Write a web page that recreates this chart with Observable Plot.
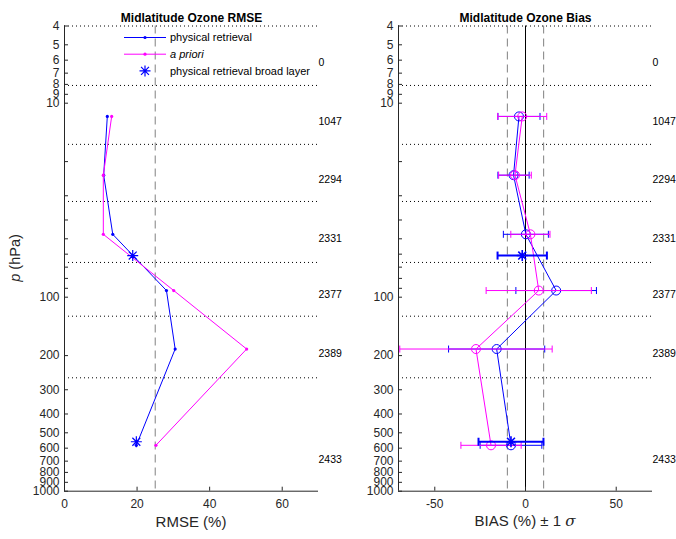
<!DOCTYPE html>
<html><head><meta charset="utf-8">
<script src="https://cdn.jsdelivr.net/npm/d3@7"></script>
<script src="https://cdn.jsdelivr.net/npm/@observablehq/plot@0.6"></script>
<style>
body{margin:0;background:#fff;}
#wrap{position:relative;width:676px;height:539px;background:#fff;font-family:"Liberation Sans",Arial,sans-serif;color:#262626;overflow:hidden;}
.abs{position:absolute;white-space:nowrap;}
</style></head><body>
<div id="wrap">
  <div id="left" class="abs" style="left:0;top:0"></div>
  <div id="right" class="abs" style="left:350px;top:0"></div>
  <div class="abs" style="left:191px;top:521px;transform:translate(-50%,-50%);font-size:15px;">RMSE (%)</div>
  <div class="abs" style="left:525px;top:521px;transform:translate(-50%,-50%);font-size:15px;">BIAS (%) ± 1 <i style="font-family:'DejaVu Serif',serif">σ</i></div>
  <div class="abs" style="left:15px;top:258px;transform:translate(-50%,-50%) rotate(-90deg);font-size:14.5px;"><i>p</i> (hPa)</div>
  <svg class="abs" style="left:0;top:0" width="350" height="90" id="legend"></svg>
</div>
<script>
// ---- data ----
const pressure = [11.7, 23.5, 47.4, 92.4, 185, 580];
const rmseRetrieval = [11.8, 10.8, 13.3, 28.1, 30.5, 19.8];
const rmsePrior = [13.0, 10.7, 10.7, 30.1, 50.2, 25.2];
const broadPressure = [61, 556];
const rmseBroad = [18.8, 19.8];
const biasRetrieval = [-3.6, -6.6, 0.2, 16.9, -15.9, -8.0];
const sigmaRetrieval = [11.6, 8.6, 12.4, 22.2, 26.5, 17.0];
const biasPrior = [-1.8, -5.8, 2.7, 7.3, -27.3, -19.0];
const sigmaPrior = [13.5, 9.0, 10.8, 29.0, 42.0, 16.6];
const biasBroad = [-1.8, -8.0];
const sigmaBroad = [13.6, 17.9];
const layerBounds = [4, 8.1, 16.3, 32.1, 66.2, 125.3, 260.3];
const layerLabels = ["0", "1047", "2294", "2331", "2377", "2389", "2433"];
const labelPressure = [6.2, 12.4, 24.7, 49.7, 97, 196, 689];
const rmseThreshold = [25];
const biasThreshold = [-10, 10];
const biasZero = [0];
const yTicks = [4,5,6,7,8,9,10,20,30,40,50,60,70,80,90,100,200,300,400,500,600,700,800,900,1000];
const yTickLabels = [4,5,6,7,8,9,10,100,200,300,400,500,600,700,800,900,1000];
const rmseTicks = [0, 20, 40, 60];
const biasTicks = [-50, 0, 50];
const rmseDomain = [0, 70];
const biasDomain = [-70, 70];
const yDomain = [4, 1000];
const titles = ["Midlatitude Ozone RMSE", "Midlatitude Ozone Bias"];

const BLUE = "#0000ff", MAG = "#ff00ff", AX = "#262626";

const rows = pressure.map((p, i) => ({
  p, rr: rmseRetrieval[i], rp: rmsePrior[i],
  br: biasRetrieval[i], sr: sigmaRetrieval[i],
  bp: biasPrior[i], sp: sigmaPrior[i]
}));
const broad = broadPressure.map((p, i) => ({p, r: rmseBroad[i], b: biasBroad[i], s: sigmaBroad[i]}));
const labels = layerLabels.map((t, i) => ({t, p: labelPressure[i]}));

const capSymbol = {draw(ctx, size) { const h = Math.sqrt(size / Math.PI); ctx.moveTo(0, -h); ctx.lineTo(0, h); }};
const starSymbol = {draw(ctx, size) {
  const r = Math.sqrt(size / Math.PI), d = r * 0.72;
  ctx.moveTo(-r, 0); ctx.lineTo(r, 0); ctx.moveTo(0, -r); ctx.lineTo(0, r);
  ctx.moveTo(-d, -d); ctx.lineTo(d, d); ctx.moveTo(-d, d); ctx.lineTo(d, -d);
}};

const common = {
  height: 539, marginTop: 25.5, marginBottom: 48.3,
  y: {type: "log", domain: yDomain, reverse: true},
  style: {fontFamily: "Liberation Sans, Arial, sans-serif", fontSize: "12px", color: AX, background: "white", overflow: "visible"}
};

function axes(xDomain, xTicks) {
  return [
    Plot.ruleX([xDomain[0]], {stroke: AX}),
    Plot.ruleY([yDomain[1]], {stroke: AX}),
    Plot.axisY({ticks: yTicks, tickFormat: () => "", tickSize: -4, tickPadding: 9, label: null, stroke: AX, strokeWidth: 1}),
    Plot.text(yTickLabels, {y: d => d, text: d => String(d), frameAnchor: "left", textAnchor: "end", dx: -5, fill: AX, fontSize: 12}),
    Plot.axisX({ticks: xTicks, tickFormat: d => String(d), tickSize: -4, tickPadding: 12, label: null, stroke: AX, strokeWidth: 1, fontSize: 12})
  ];
}

const left = Plot.plot({
  ...common, width: 350, marginLeft: 64, marginRight: 32,
  x: {domain: rmseDomain},
  marks: [
    Plot.ruleY(layerBounds, {stroke: "black", strokeDasharray: "1,3"}),
    Plot.ruleX(rmseThreshold, {stroke: "#808080", strokeDasharray: "8,5"}),
    Plot.line(rows, {x: "rr", y: "p", stroke: BLUE, strokeWidth: 1}),
    Plot.dot(rows, {x: "rr", y: "p", fill: BLUE, r: 1.6}),
    Plot.line(rows, {x: "rp", y: "p", stroke: MAG, strokeWidth: 1}),
    Plot.dot(rows, {x: "rp", y: "p", fill: MAG, r: 1.6}),
    Plot.dot(broad, {x: "r", y: "p", symbol: starSymbol, r: 5.5, stroke: BLUE, strokeWidth: 1.2}),
    Plot.text(labels, {y: "p", text: "t", frameAnchor: "right", textAnchor: "start", dx: 0, fill: "black", fontSize: 10.5}),
    Plot.text([titles[0]], {frameAnchor: "top", dy: -13, fontWeight: "bold", fontSize: 12, fill: "black"}),
    ...axes(rmseDomain, rmseTicks)
  ]
});

const right = Plot.plot({
  ...common, width: 326, marginLeft: 48, marginRight: 24,
  x: {domain: biasDomain},
  marks: [
    Plot.ruleY(layerBounds, {stroke: "black", strokeDasharray: "1,3"}),
    Plot.ruleX(biasThreshold, {stroke: "#808080", strokeDasharray: "8,5"}),
    Plot.ruleX(biasZero, {stroke: "black"}),
    // retrieval
    Plot.link(rows, {x1: d => d.br - d.sr, x2: d => d.br + d.sr, y1: "p", y2: "p", stroke: BLUE, strokeWidth: 1}),
    Plot.dot(rows, {x: d => d.br - d.sr, y: "p", symbol: capSymbol, r: 3.5, stroke: BLUE, strokeWidth: 1}),
    Plot.dot(rows, {x: d => d.br + d.sr, y: "p", symbol: capSymbol, r: 3.5, stroke: BLUE, strokeWidth: 1}),
    Plot.line(rows, {x: "br", y: "p", stroke: BLUE, strokeWidth: 1}),
    Plot.dot(rows, {x: "br", y: "p", r: 4.5, stroke: BLUE, fill: "none", strokeWidth: 1}),
    // a priori
    Plot.link(rows, {x1: d => d.bp - d.sp, x2: d => d.bp + d.sp, y1: "p", y2: "p", stroke: MAG, strokeWidth: 1}),
    Plot.dot(rows, {x: d => d.bp - d.sp, y: "p", symbol: capSymbol, r: 3.5, stroke: MAG, strokeWidth: 1}),
    Plot.dot(rows, {x: d => d.bp + d.sp, y: "p", symbol: capSymbol, r: 3.5, stroke: MAG, strokeWidth: 1}),
    Plot.line(rows, {x: "bp", y: "p", stroke: MAG, strokeWidth: 1}),
    Plot.dot(rows, {x: "bp", y: "p", r: 4.5, stroke: MAG, fill: "none", strokeWidth: 1}),
    // broad layer
    Plot.link(broad, {x1: d => d.b - d.s, x2: d => d.b + d.s, y1: "p", y2: "p", stroke: BLUE, strokeWidth: 2}),
    Plot.dot(broad, {x: d => d.b - d.s, y: "p", symbol: capSymbol, r: 4, stroke: BLUE, strokeWidth: 2}),
    Plot.dot(broad, {x: d => d.b + d.s, y: "p", symbol: capSymbol, r: 4, stroke: BLUE, strokeWidth: 2}),
    Plot.dot(broad, {x: "b", y: "p", symbol: starSymbol, r: 5.5, stroke: BLUE, strokeWidth: 1.6}),
    Plot.text(labels, {y: "p", text: "t", frameAnchor: "right", textAnchor: "start", dx: 0, fill: "black", fontSize: 10.5}),
    Plot.text([titles[1]], {frameAnchor: "top", dy: -13, fontWeight: "bold", fontSize: 12, fill: "black"}),
    ...axes(biasDomain, biasTicks)
  ]
});

document.getElementById("left").appendChild(left);
document.getElementById("right").appendChild(right);

// legend
const legendItems = [
  {label: "physical retrieval", color: BLUE, kind: "line", italic: false},
  {label: "a priori", color: MAG, kind: "line", italic: true},
  {label: "physical retrieval broad layer", color: BLUE, kind: "star", italic: false}
];
const lg = d3.select("#legend");
legendItems.forEach((it, i) => {
  const y = 37.5 + i * 16.7;
  const g = lg.append("g");
  if (it.kind === "line") {
    g.append("line").attr("x1", 124).attr("x2", 166).attr("y1", y).attr("y2", y).attr("stroke", it.color);
    g.append("circle").attr("cx", 145).attr("cy", y).attr("r", 1.6).attr("fill", it.color);
  } else {
    const p = d3.path(); starSymbol.draw(p, Math.PI * 5.5 * 5.5);
    g.append("path").attr("d", p.toString()).attr("transform", `translate(145,${y})`).attr("stroke", it.color).attr("stroke-width", 1.2).attr("fill", "none");
  }
  g.append("text").attr("x", 170).attr("y", y).attr("dy", "0.35em")
    .attr("font-size", 11).attr("fill", "black").attr("font-family", "Liberation Sans, Arial, sans-serif")
    .attr("font-style", it.italic ? "italic" : "normal").text(it.label);
});
</script>
</body></html>
